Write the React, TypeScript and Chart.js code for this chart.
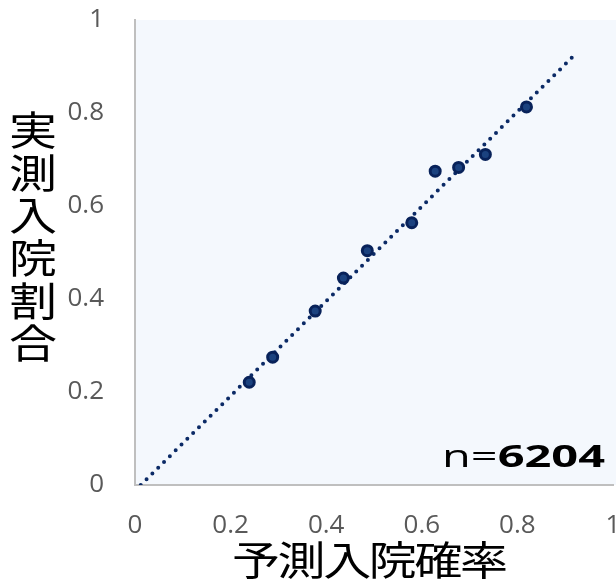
import React, { useEffect, useRef } from "react";
import { Chart, registerables } from "chart.js";

Chart.register(...registerables);

// ---- data ----
const predicted = [0.239, 0.288, 0.377, 0.436, 0.486, 0.579, 0.628, 0.677, 0.733, 0.819];
const observed = [0.221, 0.275, 0.374, 0.445, 0.504, 0.564, 0.675, 0.683, 0.711, 0.813];
const trendX = [0.012, 0.914];
const trendY = [0.0, 0.919];
const axisTicks = [0, 0.2, 0.4, 0.6, 0.8, 1];
const xTitle = "予測入院確率";
const yTitle = "実測入院割合";
const nLabelPrefix = "n=";
const nLabelValue = "6204";

const CJK = '"Noto Sans CJK JP", "Noto Sans CJK SC", sans-serif';

const decorPlugin = {
  id: "decor",
  beforeDraw(chart: any) {
    const { ctx, chartArea } = chart;
    ctx.save();
    ctx.fillStyle = "#F4F8FD";
    ctx.fillRect(chartArea.left, chartArea.top, chart.width - chartArea.left, chartArea.bottom - chartArea.top);
    ctx.restore();
  },
  afterDraw(chart: any) {
    const { ctx } = chart;
    ctx.save();
    ctx.fillStyle = "#000000";
    ctx.textAlign = "center";
    ctx.textBaseline = "middle";
    ctx.font = `40px ${CJK}`;
    const yChars = Array.from(yTitle);
    yChars.forEach((ch, i) => {
      ctx.save();
      ctx.translate(33, 130 + 42.6 * i);
      ctx.scale(1.2, 1);
      ctx.fillText(ch, 0, 0);
      ctx.restore();
    });
    const xChars = Array.from(xTitle);
    xChars.forEach((ch, i) => {
      ctx.save();
      ctx.translate(256 + 45.6 * i, 560);
      ctx.scale(1.2, 1);
      ctx.fillText(ch, 0, 0);
      ctx.restore();
    });
    ctx.textAlign = "left";
    ctx.textBaseline = "alphabetic";
    const regFont = `31px "Open Sans", sans-serif`;
    const boldFont = `bold 31px "Open Sans", sans-serif`;
    ctx.font = regFont;
    const wR = ctx.measureText(nLabelPrefix).width;
    ctx.font = boldFont;
    const wB = ctx.measureText(nLabelValue).width;
    const target = 163;
    const sx = target / (wR + wB);
    ctx.save();
    ctx.translate(605 - target, 467);
    ctx.scale(sx, 1);
    ctx.font = regFont;
    ctx.fillText(nLabelPrefix, 0, 0);
    ctx.font = boldFont;
    ctx.fillText(nLabelValue, wR, 0);
    ctx.restore();
    ctx.restore();
  },
};

export default function App() {
  const ref = useRef<HTMLCanvasElement | null>(null);
  useEffect(() => {
    if (!ref.current) return;
    const tickFont = { family: '"Open Sans", sans-serif', size: 26 };
    const chart = new Chart(ref.current, {
      type: "scatter",
      data: {
        datasets: [
          {
            type: "line",
            data: trendX.map((x, i) => ({ x, y: trendY[i] })),
            borderColor: "#0B2A66",
            borderWidth: 4,
            borderDash: [0, 8.2],
            borderCapStyle: "round",
            pointRadius: 0,
            fill: false,
            order: 2,
          } as any,
          {
            data: predicted.map((x, i) => ({ x, y: observed[i] })),
            backgroundColor: "#1B427F",
            borderColor: "#08225A",
            borderWidth: 3,
            pointRadius: 5,
            order: 1,
          },
        ],
      },
      options: {
        responsive: false,
        animation: false,
        layout: { padding: { top: 20, right: 17, left: 0, bottom: 0 } },
        plugins: { legend: { display: false }, tooltip: { enabled: false } },
        scales: {
          x: {
            type: "linear",
            min: 0,
            max: 1,
            afterBuildTicks: (s: any) => {
              s.ticks = axisTicks.map((v) => ({ value: v }));
            },
            afterFit: (s: any) => {
              s.height = 97;
              s.paddingLeft = 0;
              s.paddingRight = 0;
            },
            grid: { display: false, drawTicks: false },
            border: { display: true, color: "#BFBFBF", width: 2 },
            ticks: {
              color: "#595959",
              font: tickFont,
              padding: 25,
              maxRotation: 0,
              callback: (v: any) => String(Math.round(Number(v) * 10) / 10),
            },
          },
          y: {
            type: "linear",
            min: 0,
            max: 1,
            afterBuildTicks: (s: any) => {
              s.ticks = axisTicks.map((v) => ({ value: v }));
            },
            afterFit: (s: any) => {
              s.width = 135;
              s.paddingTop = 0;
              s.paddingBottom = 0;
            },
            grid: { display: false, drawTicks: false },
            border: { display: true, color: "#BFBFBF", width: 2 },
            ticks: {
              color: "#595959",
              font: tickFont,
              padding: 31,
              callback: (v: any) => String(Math.round(Number(v) * 10) / 10),
            },
          },
        },
      },
      plugins: [decorPlugin],
    });
    return () => chart.destroy();
  }, []);
  return (
    <div style={{ position: "fixed", left: 0, top: 0, width: 616, height: 582, overflow: "hidden", background: "#fff" }}>
      <canvas ref={ref} width={630} height={582} style={{ display: "block" }} />
    </div>
  );
}
